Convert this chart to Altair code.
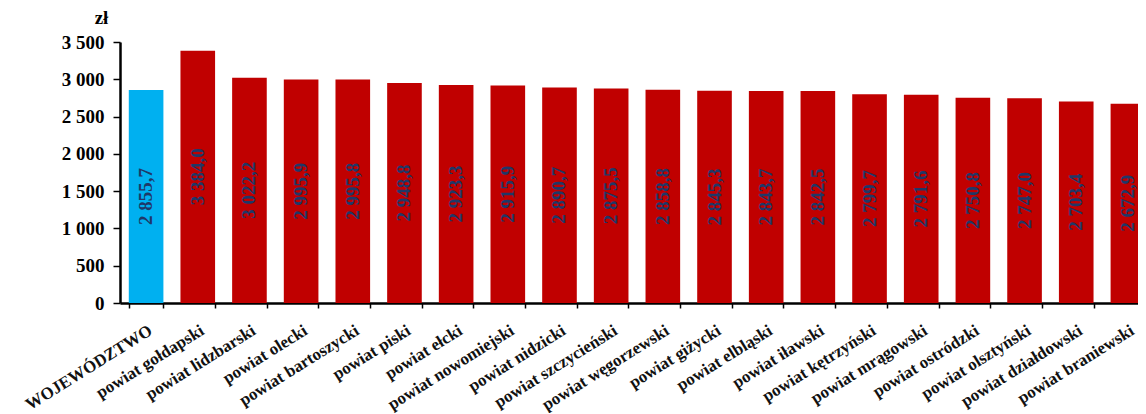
import altair as alt
import pandas as pd

categories = [
    "WOJEWÓDZTWO", "powiat gołdapski", "powiat lidzbarski", "powiat olecki",
    "powiat bartoszycki", "powiat piski", "powiat ełcki", "powiat nowomiejski",
    "powiat nidzicki", "powiat szczycieński", "powiat węgorzewski", "powiat giżycki",
    "powiat elbląski", "powiat iławski", "powiat kętrzyński", "powiat mrągowski",
    "powiat ostródzki", "powiat olsztyński", "powiat działdowski", "powiat braniewski",
]
values = [
    2855.7, 3384.0, 3022.2, 2995.9, 2995.8, 2948.8, 2923.3, 2915.9, 2890.7, 2875.5,
    2858.8, 2845.3, 2843.7, 2842.5, 2799.7, 2791.6, 2750.8, 2747.0, 2703.4, 2672.9,
]
groups = ["woj"] + ["pow"] * (len(categories) - 1)
y_ticks = [0, 500, 1000, 1500, 2000, 2500, 3000, 3500]

df = pd.DataFrame({"cat": categories, "val": values, "grp": groups})
df["lbl"] = df["val"].map(lambda v: f"{v:,.1f}".replace(",", " ").replace(".", ","))
df["half"] = df["val"] / 2

xscale = alt.Scale(type="band", paddingInner=0.33, paddingOuter=0.17)
yscale = alt.Scale(domain=[0, 3500], nice=False)

xaxis = alt.Axis(
    labelAngle=-32, labelAlign="right", labelBaseline="top",
    labelFont="Liberation Serif", labelFontWeight="bold", labelFontSize=17,
    labelColor="#111111", labelPadding=14, labelLimit=300,
    tickBand="extent", tickSize=5, tickColor="black", tickWidth=1.5,
    domainColor="black", domainWidth=2.5,
)
yaxis = alt.Axis(
    values=y_ticks, labelOverlap=False,
    labelExpr="replace(format(datum.value, ','), ',', ' ')",
    labelFont="Liberation Serif", labelFontWeight="bold", labelFontSize=19,
    labelColor="black", labelPadding=9,
    tickSize=7, tickColor="black", tickWidth=1.5,
    domainColor="black", domainWidth=2.5, grid=False,
    titleAngle=0, titleFont="Liberation Serif", titleFontWeight="bold",
    titleFontSize=19, titleColor="black", titleX=-19, titleY=-15,
    titleAlign="center", titleBaseline="bottom",
)

bars = alt.Chart(df).mark_bar().encode(
    x=alt.X("cat:N", sort=categories, title=None, scale=xscale, axis=xaxis),
    y=alt.Y("val:Q", title="zł", scale=yscale, axis=yaxis),
    color=alt.Color(
        "grp:N",
        scale=alt.Scale(domain=["woj", "pow"], range=["#00B0F0", "#C00000"]),
        legend=None,
    ),
)

texts = alt.Chart(df).mark_text(
    angle=270, align="center", baseline="middle",
    font="Liberation Serif", fontSize=19, fontWeight="bold", color="#1F3868",
).encode(
    x=alt.X("cat:N", sort=categories, title=None, scale=xscale, axis=xaxis),
    y=alt.Y("half:Q", title="zł", scale=yscale, axis=yaxis),
    text="lbl:N",
)

chart = (
    alt.layer(bars, texts)
    .properties(
        width=1034, height=261,
        autosize=alt.AutoSizeParams(type="none"),
        padding={"left": 112, "top": 34, "right": -16, "bottom": 110},
    )
    .configure_view(stroke=None)
)

chart.save("out.html", embed_options={"renderer": "svg", "actions": False})
